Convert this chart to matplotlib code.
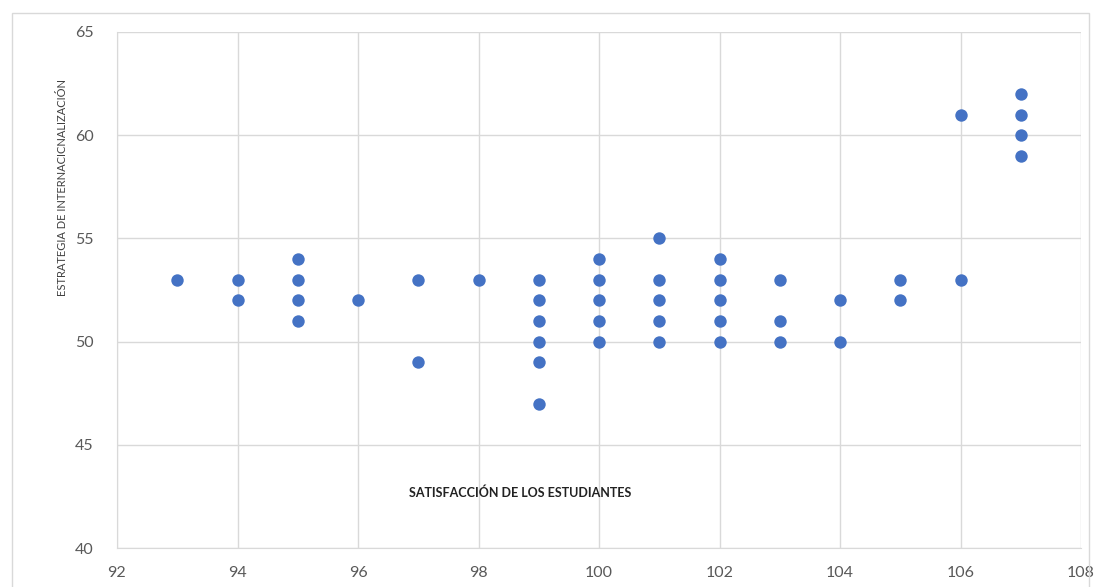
import matplotlib
matplotlib.use("Agg")
import matplotlib.pyplot as plt
from matplotlib.patches import Rectangle

# satisfaccion (x) vs estrategia de internacionalizacion (y)
satisfaccion = [93,
                94, 94,
                95, 95, 95, 95,
                96,
                97, 97,
                98,
                99, 99, 99, 99, 99, 99,
                100, 100, 100, 100, 100,
                101, 101, 101, 101, 101,
                102, 102, 102, 102, 102,
                103, 103, 103,
                104, 104,
                105, 105,
                106, 106,
                107, 107, 107, 107]
estrategia = [53,
              53, 52,
              54, 53, 52, 51,
              52,
              53, 49,
              53,
              53, 52, 51, 50, 49, 47,
              54, 53, 52, 51, 50,
              55, 53, 52, 51, 50,
              54, 53, 52, 51, 50,
              53, 51, 50,
              52, 50,
              53, 52,
              61, 53,
              62, 61, 60, 59]

x_ticks = [92, 94, 96, 98, 100, 102, 104, 106, 108]
y_ticks = [40, 45, 50, 55, 60, 65]

plt.rcParams['font.family'] = ['Lato', 'DejaVu Sans']

fig = plt.figure(figsize=(11.1, 5.87), dpi=100)
ax = fig.add_axes([117 / 1110, 39 / 587, 964 / 1110, 516 / 587])

ax.scatter(satisfaccion, estrategia, s=80, color='#4472C4', zorder=3,
           linewidths=0)

ax.set_xlim(92, 108)
ax.set_ylim(40, 65)
ax.set_xticks(x_ticks)
ax.set_yticks(y_ticks)
ax.grid(True, color='#d9d9d9', linewidth=1)
ax.set_axisbelow(True)
for side in ['top', 'right']:
    ax.spines[side].set_visible(False)
for side in ['left', 'bottom']:
    ax.spines[side].set_color('#d9d9d9')
ax.tick_params(length=0, labelsize=11.5, labelcolor='#595959')
ax.tick_params(axis='x', pad=13)
ax.tick_params(axis='y', pad=17)

# axis titles (Excel placed them by hand)
fig.text(520 / 1110, 1 - 493 / 587, 'SATISFACCIÓN DE LOS ESTUDIANTES',
         ha='center', va='center', fontsize=9, fontweight='bold',
         color='#222222')
fig.text(63 / 1110, 1 - 188 / 587, 'ESTRATEGIA DE INTERNACICNALIZACIÓN',
         ha='center', va='center', rotation=90, fontsize=8, color='#404040')

# chart border
fig.patches.append(Rectangle((12 / 1110, -0.05), 1077 / 1110, 1.05 - 13 / 587,
                             transform=fig.transFigure, fill=False,
                             edgecolor='#d9d9d9', linewidth=1))

fig.savefig('out.png', dpi=100)
